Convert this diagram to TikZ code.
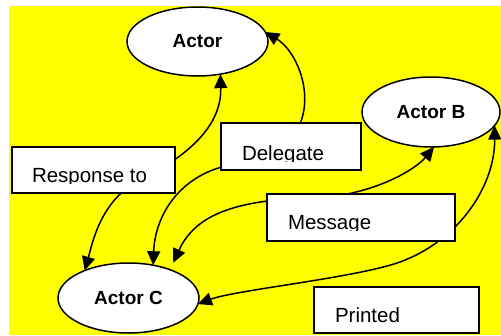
\documentclass[tikz,border=0pt]{standalone}
\usepackage{fontspec}
\setmainfont{Liberation Sans}
\usetikzlibrary{arrows.meta,shapes.geometric}
\definecolor{bgyellow}{RGB}{255,255,0}
\tikzset{
  actor/.style={ellipse, draw=black, fill=white, line width=1.5pt,
    minimum width=141pt, minimum height=69pt, inner sep=0pt, outer sep=0pt,
    font=\bfseries\fontsize{19}{21}\selectfont},
  labelbox/.style={rectangle, draw=black, fill=white, line width=1.8pt,
    inner sep=0pt, outer sep=0pt},
  labeltext/.style={anchor=base west, inner sep=0pt, outer sep=0pt,
    font=\fontsize{20.5}{22}\selectfont},
  link/.style={line width=1.5pt, draw=black,
    {Triangle[length=14pt,width=13pt]}-{Triangle[length=14pt,width=13pt]}}
}
\begin{document}
\begin{tikzpicture}[x=1pt,y=-1pt]
  \useasboundingbox (0,0) rectangle (501,335);
  % page background
  \fill[bgyellow] (9,6) rectangle (501,335);

  % actors
  \node[actor] (act)  at (197.5,41.5) {Actor};
  \node[actor, minimum width=138pt, minimum height=70pt] (actb) at (431,112) {Actor B};
  \node[actor, minimum height=70pt] (actc) at (128.5,298) {Actor C};

  % associations (drawn beneath the label boxes)
  \draw[link] (actc.148) .. controls (92,245) and (100,200) .. (140,180)
              .. controls (180,160) and (222,130) .. (act.-55);
  \draw[link] (actc.53) .. controls (155,215) and (180,175) .. (230,165)
              .. controls (335,155) and (308,58) .. (act.8);
  \draw[link] ([xshift=6pt,yshift=6pt]actc.37) .. controls (195,215) and (235,200) .. (310,198)
              .. controls (370,197) and (415,170) .. (actb.-85);
  \draw[link] (actb.-12) .. controls (495,185) and (460,240) .. (400,262)
              .. controls (355,278) and (235,290) .. (actc.-5);

  % label boxes
  \node[labelbox, minimum width=163pt, minimum height=46pt] (resp) at (93.5,170) {};
  \node[labelbox, minimum width=140pt, minimum height=47pt] (dele) at (291,146.5) {};
  \node[labelbox, minimum width=188pt, minimum height=47pt] (msg)  at (361,217.5) {};
  \node[labelbox, minimum width=165pt, minimum height=46pt] (prn)  at (396.5,310) {};

  % label texts, cut off just below the baseline
  \begin{scope}
    \clip (13,148) rectangle (174,183);
    \node[labeltext] (resptxt) at (32,182) {Response to};
  \end{scope}
  \begin{scope}
    \clip (222,124) rectangle (360,161);
    \node[labeltext] (deletxt) at (242,160) {Delegate};
  \end{scope}
  \begin{scope}
    \clip (268,195) rectangle (454,230);
    \node[labeltext] (msgtxt) at (288,229) {Message};
  \end{scope}
  \begin{scope}
    \clip (315,288) rectangle (478,324);
    \node[labeltext] (prntxt) at (335,322) {Printed};
  \end{scope}
\end{tikzpicture}
\end{document}
